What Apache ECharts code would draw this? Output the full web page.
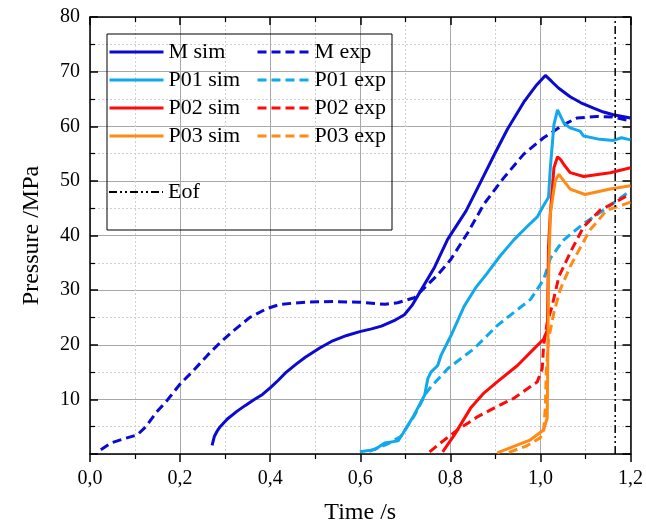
<!DOCTYPE html>
<html>
<head>
<meta charset="utf-8">
<script src="https://cdn.jsdelivr.net/npm/echarts@6/dist/echarts.min.js"></script>
<style>html,body{margin:0;padding:0;background:#fff}#c{width:646px;height:530px}</style>
</head>
<body>
<div id="c"></div>
<script>
const xTicks = [0, 0.2, 0.4, 0.6, 0.8, 1.0, 1.2];
const yTicks = [10, 20, 30, 40, 50, 60, 70, 80];
const eofTime = 1.166;

const mSim = [[0.271,1.6],[0.276,3.2],[0.283,4.3],[0.289,5.0],[0.305,6.4],[0.326,7.8],[0.345,8.9],[0.363,9.9],[0.383,10.9],[0.40,12.1],[0.418,13.5],[0.436,15],[0.457,16.4],[0.478,17.7],[0.51,19.4],[0.536,20.6],[0.57,21.7],[0.599,22.4],[0.625,22.9],[0.647,23.4],[0.675,24.4],[0.698,25.5],[0.715,27.2],[0.735,30],[0.765,34.2],[0.794,39.3],[0.835,44.5],[0.868,49.9],[0.90,55.2],[0.927,59.5],[0.963,64.4],[0.99,67.4],[1.011,69.3],[1.025,68.2],[1.04,67.0],[1.066,65.4],[1.09,64.3],[1.118,63.3],[1.14,62.6],[1.162,62.1],[1.2,61.5]];
const mExp = [[0.024,0.8],[0.046,2.0],[0.076,2.8],[0.105,3.5],[0.124,5.0],[0.146,7.5],[0.172,9.9],[0.201,12.9],[0.23,15.3],[0.26,18.0],[0.289,20.4],[0.319,22.6],[0.355,25.0],[0.392,26.6],[0.422,27.4],[0.478,27.8],[0.54,27.9],[0.60,27.8],[0.655,27.4],[0.683,27.7],[0.72,28.6],[0.746,30.7],[0.772,32.8],[0.80,35.5],[0.838,40.4],[0.875,45.8],[0.919,50.6],[0.963,54.9],[1.007,57.9],[1.052,60.3],[1.081,61.5],[1.125,61.8],[1.16,61.7],[1.2,61.0]];
const p01Sim = [[0.599,0.4],[0.632,0.8],[0.654,2.0],[0.684,2.4],[0.695,3.8],[0.72,7.2],[0.743,10.8],[0.75,13.8],[0.757,15],[0.772,16.2],[0.779,18],[0.801,21.6],[0.831,27.1],[0.856,30.4],[0.882,33.1],[0.91,36.2],[0.941,39.2],[0.97,41.6],[0.993,43.4],[1.007,45.5],[1.018,47],[1.022,52.4],[1.03,60.3],[1.038,63],[1.045,61.8],[1.052,60.6],[1.066,59.7],[1.088,59.1],[1.096,58.2],[1.132,57.6],[1.162,57.4],[1.18,57.9],[1.2,57.5]];
const p01Exp = [[0.62,0.5],[0.66,1.8],[0.69,3.2],[0.72,7.0],[0.745,11],[0.757,12.3],[0.794,15.6],[0.827,17.7],[0.853,19.3],[0.904,23.5],[0.978,28.3],[1.007,31.9],[1.022,35.8],[1.041,38],[1.052,39.2],[1.096,42.2],[1.14,44.6],[1.2,48.2]];
const p02Sim = [[0.783,0.4],[0.809,3.5],[0.845,8.4],[0.875,11.2],[0.904,13.2],[0.949,16.2],[0.985,19.2],[1.007,21],[1.015,22.6],[1.016,25.9],[1.018,38],[1.022,44],[1.03,52.4],[1.038,54.4],[1.045,53.9],[1.052,53],[1.066,51.5],[1.096,50.8],[1.155,51.5],[1.2,52.4]];
const p02Exp = [[0.754,0.4],[0.787,2.6],[0.816,4.4],[0.86,6.8],[0.904,8.7],[0.941,10.2],[0.993,13.2],[1.004,15.6],[1.007,19.8],[1.015,24],[1.026,27.1],[1.041,32.5],[1.07,37.5],[1.096,41.6],[1.132,44.6],[1.2,47.6]];
const p03Sim = [[0.904,0.2],[0.941,1.4],[0.978,2.6],[1.007,4.4],[1.015,6.6],[1.016,13.8],[1.018,31.9],[1.022,44],[1.033,50],[1.041,51.2],[1.052,50],[1.066,48.5],[1.099,47.5],[1.155,48.5],[1.2,49.1]];
const p03Exp = [[0.93,0.3],[0.97,1.5],[1.0,3],[1.007,4],[1.011,8.8],[1.013,15],[1.018,21],[1.03,25.9],[1.044,30.1],[1.066,34.3],[1.09,38],[1.11,41],[1.147,44.6],[1.2,46.1]];
const eofLine = [[eofTime,0],[eofTime,80]];

const C_M = '#0a0ad0', C_P01 = '#12a8ec', C_P02 = '#ff0a0a', C_P03 = '#ff8a14';
const FONT = '"Liberation Serif", "DejaVu Serif", serif';

function ln(name, data, color, dashed) {
  return {
    name, type: 'line', data, showSymbol: false, symbol: 'none', smooth: false,
    lineStyle: { color, width: 3, type: dashed ? [9, 5] : 'solid' },
    itemStyle: { color }, silent: true, z: 3
  };
}

const chart = echarts.init(document.getElementById('c'), null, { renderer: 'canvas' });
const baseX = {
  type: 'value', min: 0, max: 1.2, interval: 0.2,
  axisLine: { show: true, onZero: false, lineStyle: { color: '#000', width: 1.5 } }
};
const baseY = {
  type: 'value', min: 0, max: 80, interval: 10,
  axisLine: { show: true, onZero: false, lineStyle: { color: '#000', width: 1.5 } }
};
const legendText = { fontFamily: FONT, fontSize: 22, color: '#000', lineHeight: 22 };
const legendCommon = { orient: 'vertical', itemHeight: 14, itemGap: 6, padding: 0,
  itemStyle: { opacity: 0 }, textStyle: legendText };
chart.setOption({
  animation: false,
  backgroundColor: '#fff',
  grid: { left: 90, right: 11, top: 17, bottom: 72, containLabel: false },
  xAxis: [
    Object.assign({}, baseX, {
      position: 'bottom',
      name: 'Time /s', nameLocation: 'middle', nameGap: 47,
      nameTextStyle: { fontFamily: FONT, fontSize: 24, color: '#000' },
      axisTick: { show: true, inside: false, length: 8, lineStyle: { color: '#000', width: 1.5 } },
      minorTick: { show: true, splitNumber: 2, length: 5, lineStyle: { color: '#000', width: 1.2 } },
      axisLabel: { fontFamily: FONT, fontSize: 20, color: '#000', margin: 15,
        formatter: v => v.toFixed(1).replace('.', ',') },
      splitLine: { show: true, lineStyle: { color: '#a8a8a8', width: 1 } },
      minorSplitLine: { show: true, lineStyle: { color: '#cfcfcf', width: 1, type: [2, 2] } }
    }),
    Object.assign({}, baseX, {
      position: 'top',
      axisTick: { show: true, inside: true, length: 8, lineStyle: { color: '#000', width: 1.5 } },
      minorTick: { show: true, splitNumber: 2, length: 5, lineStyle: { color: '#000', width: 1.2 } },
      axisLabel: { show: false }, splitLine: { show: false }
    })
  ],
  yAxis: [
    Object.assign({}, baseY, {
      position: 'left',
      name: 'Pressure /MPa', nameLocation: 'middle', nameGap: 46,
      nameTextStyle: { fontFamily: FONT, fontSize: 24, color: '#000' },
      axisTick: { show: true, inside: true, length: 8, lineStyle: { color: '#000', width: 1.5 } },
      minorTick: { show: true, splitNumber: 2, length: 5, lineStyle: { color: '#000', width: 1.2 } },
      axisLabel: { fontFamily: FONT, fontSize: 20, color: '#000', margin: 10,
        formatter: v => (yTicks.indexOf(v) >= 0 ? String(v) : '') },
      splitLine: { show: true, lineStyle: { color: '#a8a8a8', width: 1 } },
      minorSplitLine: { show: true, lineStyle: { color: '#cfcfcf', width: 1, type: [2, 2] } }
    }),
    Object.assign({}, baseY, {
      position: 'right',
      axisTick: { show: true, inside: true, length: 8, lineStyle: { color: '#000', width: 1.5 } },
      minorTick: { show: true, splitNumber: 2, length: 5, lineStyle: { color: '#000', width: 1.2 } },
      axisLabel: { show: false }, splitLine: { show: false }
    })
  ],
  legend: [
    Object.assign({ data: ['M sim', 'P01 sim', 'P02 sim', 'P03 sim'], left: 108, top: 41, itemWidth: 54,
      lineStyle: { width: 3 } }, legendCommon),
    Object.assign({ data: ['M exp', 'P01 exp', 'P02 exp', 'P03 exp'], left: 256, top: 41, itemWidth: 52,
      lineStyle: { width: 3 } }, legendCommon),
    Object.assign({ data: ['Eof'], left: 108, top: 181, itemWidth: 54 }, legendCommon)
  ],
  graphic: [
    { type: 'rect', shape: { x: 107, y: 34, width: 285, height: 196 },
      style: { fill: 'rgba(255,255,255,0)', stroke: '#000', lineWidth: 1 }, z: 1, silent: true }
  ],
  series: [
    ln('M sim', mSim, C_M, false),
    ln('M exp', mExp, C_M, true),
    ln('P01 sim', p01Sim, C_P01, false),
    ln('P01 exp', p01Exp, C_P01, true),
    ln('P02 sim', p02Sim, C_P02, false),
    ln('P02 exp', p02Exp, C_P02, true),
    ln('P03 sim', p03Sim, C_P03, false),
    ln('P03 exp', p03Exp, C_P03, true),
    { name: 'Eof', type: 'line', data: eofLine, showSymbol: false, symbol: 'none', silent: true,
      lineStyle: { color: '#000', width: 1.5, type: [8, 3, 2, 3, 2, 3] }, itemStyle: { color: '#000' }, z: 4 }
  ]
});
</script>
</body>
</html>
